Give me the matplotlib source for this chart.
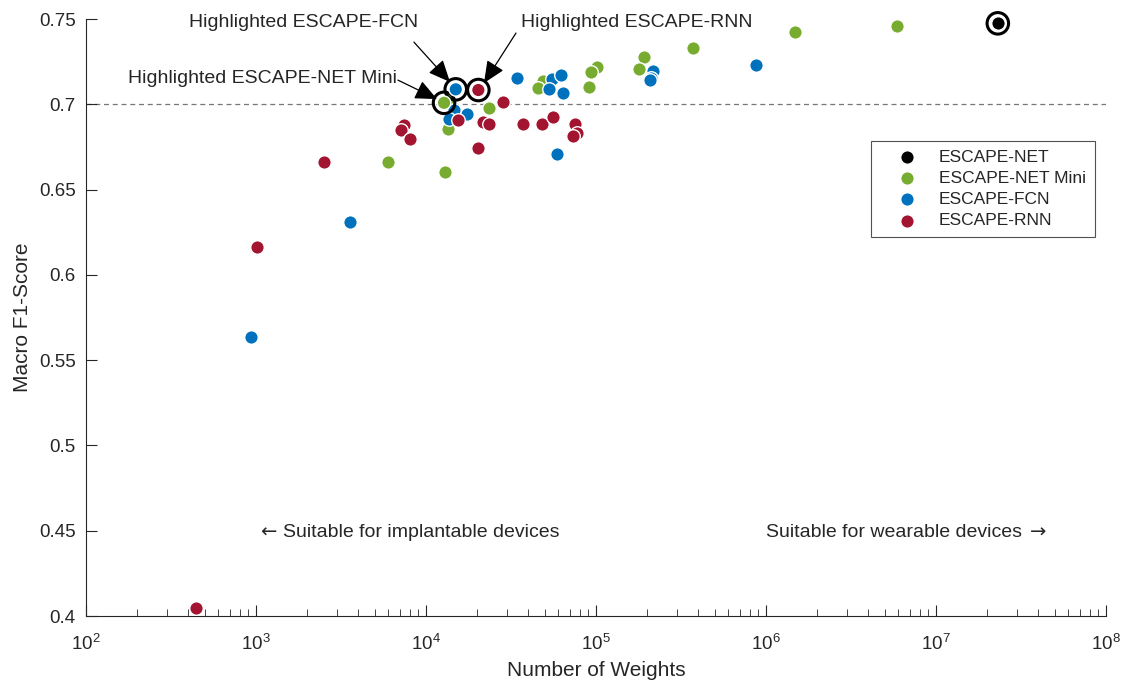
import matplotlib
matplotlib.use("Agg")
from matplotlib import pyplot as plt
from matplotlib.ticker import NullFormatter, FixedLocator, LogFormatterMathtext
import numpy as np

plt.rcParams['font.family'] = ['Liberation Sans', 'DejaVu Sans']
plt.rcParams['mathtext.fontset'] = 'custom'
plt.rcParams['mathtext.rm'] = 'Liberation Sans'
plt.rcParams['mathtext.it'] = 'Liberation Sans:italic'

# data (number of weights, macro F1)
net_w = [2.31e7]
net_f1 = [0.7475]

mini_w = [12770, 13710, 23550, 13520, 5995, 12940, 48980, 45810, 101900, 93500,
          91400, 191400, 179800, 370500, 1.483e6, 5.92e6]
mini_f1 = [0.7009, 0.7029, 0.6976, 0.6853, 0.666, 0.6601, 0.7135, 0.7094, 0.7217, 0.7188,
           0.7103, 0.7275, 0.7207, 0.7333, 0.7426, 0.7457]

fcn_w = [14960, 14650, 17330, 13640, 34200, 54820, 61900, 53100, 63680, 58720,
         217100, 209900, 208000, 867400, 3573, 934]
fcn_f1 = [0.7088, 0.6967, 0.6943, 0.6915, 0.7156, 0.7148, 0.717, 0.7088, 0.7064, 0.6707,
          0.7197, 0.7156, 0.7142, 0.723, 0.631, 0.5636]

rnn_w = [20320, 28250, 15490, 21720, 23550, 7430, 7100, 8050, 20230, 37070,
         48300, 55600, 75150, 77600, 73450, 2512, 1014, 444]
rnn_f1 = [0.7084, 0.7012, 0.6908, 0.6898, 0.6884, 0.6877, 0.6849, 0.6796, 0.6742, 0.6884,
          0.6883, 0.6927, 0.6884, 0.683, 0.6816, 0.6662, 0.6163, 0.4047]

# highlighted models
hl_w = [net_w[0], mini_w[0], fcn_w[0], rnn_w[0]]
hl_f1 = [net_f1[0], mini_f1[0], fcn_f1[0], rnn_f1[0]]

x_major = [1e2, 1e3, 1e4, 1e5, 1e6, 1e7, 1e8]
y_major = [0.4, 0.45, 0.5, 0.55, 0.6, 0.65, 0.7, 0.75]
y_labels = ['0.4', '0.45', '0.5', '0.55', '0.6', '0.65', '0.7', '0.75']

fig = plt.figure(figsize=(11.24, 6.81), dpi=100)
ax = fig.add_axes([0.0765, 0.0954, 0.9075, 0.8766])

c_net = 'black'
c_mini = '#77AC30'
c_fcn = '#0072BD'
c_rnn = '#A2142F'
txt_c = '#262626'

s = 95
ax.scatter(net_w, net_f1, s=s, c=c_net, edgecolors='white', linewidths=1, zorder=3, label='ESCAPE-NET', clip_on=False)
ax.scatter(mini_w, mini_f1, s=s, c=c_mini, edgecolors='white', linewidths=1, zorder=3, label='ESCAPE-NET Mini')
ax.scatter(fcn_w, fcn_f1, s=s, c=c_fcn, edgecolors='white', linewidths=1, zorder=3, label='ESCAPE-FCN')
ax.scatter(rnn_w, rnn_f1, s=s, c=c_rnn, edgecolors='white', linewidths=1, zorder=3, label='ESCAPE-RNN', clip_on=False)

# rings around highlighted points
ax.scatter(hl_w, hl_f1, s=240, facecolors='none', edgecolors='black', linewidths=2.2, zorder=4, clip_on=False)
ax.scatter(hl_w[1:], hl_f1[1:], s=s, c=[c_mini, c_fcn, c_rnn], edgecolors='white', linewidths=1, zorder=5)
ax.scatter(hl_w[:1], hl_f1[:1], s=s, c=c_net, edgecolors='white', linewidths=1, zorder=5, clip_on=False)

ax.axhline(0.7, color='#777777', linestyle=(0, (4, 3)), linewidth=0.9, zorder=1)

ax.set_xscale('log')
ax.set_xlim(1e2, 1e8)
ax.set_ylim(0.4, 0.75)
ax.yaxis.set_major_locator(FixedLocator(y_major))
ax.set_yticklabels(y_labels)
ax.xaxis.set_major_locator(FixedLocator(x_major))
ax.xaxis.set_major_formatter(LogFormatterMathtext())
minors = [m * 10.0 ** e for e in range(2, 8) for m in range(2, 10)]
ax.xaxis.set_minor_locator(FixedLocator(minors))
ax.xaxis.set_minor_formatter(NullFormatter())

for sp in ['top', 'right']:
    ax.spines[sp].set_visible(False)
for sp in ['left', 'bottom']:
    ax.spines[sp].set_color(txt_c)
    ax.spines[sp].set_linewidth(0.8)
ax.tick_params(which='both', direction='in', colors=txt_c, labelsize=13.5)
ax.tick_params(which='major', length=8, width=0.8)
ax.tick_params(which='minor', length=5, width=0.6)
ax.tick_params(axis='x', pad=13)
ax.tick_params(axis='y', pad=7.5)

ax.set_xlabel('Number of Weights', fontsize=15, color=txt_c, labelpad=5)
ax.set_ylabel('Macro F1-Score', fontsize=15, color=txt_c, labelpad=5)

# annotations
aprops = dict(arrowstyle='-|>,head_length=0.9,head_width=0.4', color='black', lw=0.9,
              mutation_scale=15, shrinkA=0, shrinkB=0)
fs = 14
ax.text(1915, 0.7482, 'Highlighted ESCAPE-FCN', ha='center', va='center', fontsize=fs, color=txt_c)
ax.annotate('', xy=(13840, 0.7131), xytext=(8490, 0.7365), arrowprops=aprops)
ax.text(174200, 0.7482, 'Highlighted ESCAPE-RNN', ha='center', va='center', fontsize=fs, color=txt_c)
ax.annotate('', xy=(21930, 0.7125), xytext=(33830, 0.7418), arrowprops=aprops)
ax.text(1099, 0.7154, 'Highlighted ESCAPE-NET Mini', ha='center', va='center', fontsize=fs, color=txt_c)
ax.annotate('', xy=(11610, 0.7031), xytext=(6840, 0.7142), arrowprops=aprops)

# device regions: arrows drawn in DejaVu Sans (wider glyph)
ax.text(1443, 0.4492, 'Suitable for implantable devices', ha='left', va='center',
        fontsize=fs, color=txt_c)
ax.annotate('\u2190', xy=(1443, 0.4492), xytext=(-7, 0), textcoords='offset pixels',
            ha='right', va='center', fontsize=fs, color=txt_c, family='DejaVu Sans')
ax.text(1e6, 0.4492, 'Suitable for wearable devices', ha='left', va='center',
        fontsize=fs, color=txt_c)
ax.annotate('\u2192', xy=(1e6, 0.4492), xytext=(264, 0), textcoords='offset pixels',
            ha='left', va='center', fontsize=fs, color=txt_c, family='DejaVu Sans')

leg = ax.legend(loc='upper right', bbox_to_anchor=(0.989, 0.7956), fontsize=12.5,
                frameon=True, fancybox=False, edgecolor=txt_c, handletextpad=0.25,
                borderpad=0.5, labelspacing=0.34, handlelength=3.2, scatterpoints=1,
                borderaxespad=0)
leg.get_frame().set_linewidth(0.8)
for t in leg.get_texts():
    t.set_color(txt_c)

fig.savefig('out.png', dpi=100)
